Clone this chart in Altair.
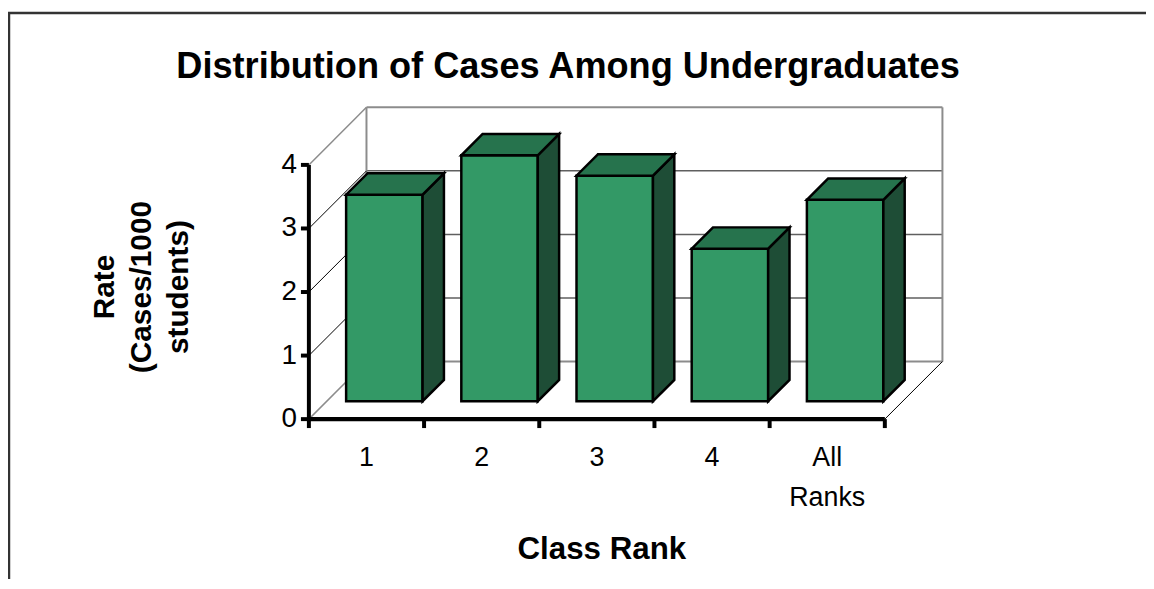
import altair as alt
import pandas as pd

# ---- data ----
categories = ["1", "2", "3", "4", "All\nRanks"]
rates = [3.25, 3.87, 3.55, 2.40, 3.17]
y_ticks = [0, 1, 2, 3, 4]
chart_title = "Distribution of Cases Among Undergraduates"
x_title = "Class Rank"
y_title = "Rate\n(Cases/1000\nstudents)"

# ---- layout (pixels in the view) ----
W, H = 1146, 573
ORIGIN_X, ORIGIN_Y = 303, 412       # pixel of category 0 / value 0 (front plane)
CAT_PX, UNIT_PX, DEPTH_PX = 116, 64, 58
FONT = "Liberation Sans"

x_scale = alt.Scale(domain=[-ORIGIN_X / CAT_PX, (W - ORIGIN_X) / CAT_PX], nice=False, zero=False)
y_scale = alt.Scale(domain=[(ORIGIN_Y - H) / UNIT_PX, ORIGIN_Y / UNIT_PX], nice=False, zero=False)
DX = DEPTH_PX / CAT_PX   # depth offset in category units
DY = DEPTH_PX / UNIT_PX  # depth offset in value units
F_FRONT = 18 / DEPTH_PX  # bar front-face depth fraction
F_DEPTH = 21.5 / DEPTH_PX  # bar depth fraction
GAP = 19.5 / CAT_PX
BW = 77 / CAT_PX
n = len(categories)


def X(f="x"):
    return alt.X(f"{f}:Q", scale=x_scale, axis=None, stack=None)


def Y(f="y"):
    return alt.Y(f"{f}:Q", scale=y_scale, axis=None, stack=None)


# ---- tables built from the arrays ----
front_rows, side_rows, top_rows = [], [], []
for i, (c, v) in enumerate(zip(categories, rates)):
    x0 = i + F_FRONT * DX + GAP
    x1 = x0 + BW
    y0 = F_FRONT * DY
    y1 = v + F_FRONT * DY
    front_rows.append(dict(cat=c, x=x0, x2=x1, y=y0, y2=y1))
    for t in (0, 1):
        sx, sy = t * F_DEPTH * DX, t * F_DEPTH * DY
        side_rows.append(dict(cat=c, x=x1 + sx, y=y1 + sy, y2=y0 + sy))
        top_rows.append(dict(cat=c, y=y1 + sy, x=x0 + sx, x2=x1 + sx))
front_df = pd.DataFrame(front_rows)
side_df = pd.DataFrame(side_rows)
top_df = pd.DataFrame(top_rows)

grid_df = pd.DataFrame({"x": [DX] * len(y_ticks), "x2": [n + DX] * len(y_ticks),
                        "y": [k + DY for k in y_ticks],
                        "edge": [k in (y_ticks[0], y_ticks[-1]) for k in y_ticks]})
wall_edges_df = pd.DataFrame({"x": [DX, n + DX], "y": [DY, DY], "y2": [y_ticks[-1] + DY] * 2})
diag_df = pd.DataFrame({"x": [0.0] * len(y_ticks), "x2": [DX] * len(y_ticks),
                        "y": [float(k) for k in y_ticks], "y2": [k + DY for k in y_ticks],
                        "edge": [k in (y_ticks[0], y_ticks[-1]) for k in y_ticks]})
floor_diag_df = pd.DataFrame({"x": [float(n)], "x2": [n + DX], "y": [0.0], "y2": [DY]})
yaxis_df = pd.DataFrame({"x": [0.0], "y": [0.0], "y2": [float(y_ticks[-1])]})
xaxis_df = pd.DataFrame({"x": [0.0], "x2": [float(n)], "y": [0.0]})
ytick_df = pd.DataFrame({"x": [0.0] * len(y_ticks), "y": y_ticks, "label": [str(k) for k in y_ticks]})
xtick_df = pd.DataFrame({"x": [float(i) for i in range(n + 1)], "y": [0.0] * (n + 1)})
cat_df = pd.DataFrame({"x": [i + 0.5 for i in range(n)], "y": [0.0] * n, "label": categories})

GRID_EDGE = "#8c8c8c"
GRID_IN = "#5f5f5f"

layers = []
# back wall gridlines
layers.append(alt.Chart(grid_df).mark_rule().encode(
    x=X(), x2="x2:Q", y=Y(),
    color=alt.condition("datum.edge", alt.value(GRID_EDGE), alt.value(GRID_IN)),
    strokeWidth=alt.condition("datum.edge", alt.value(2), alt.value(1.5))))
layers.append(alt.Chart(wall_edges_df).mark_rule(color=GRID_EDGE, strokeWidth=2).encode(
    x=X(), y=Y(), y2="y2:Q"))
# side wall diagonals
layers.append(alt.Chart(diag_df).mark_rule().encode(
    x=X(), x2="x2:Q", y=Y(), y2="y2:Q",
    color=alt.condition("datum.edge", alt.value(GRID_EDGE), alt.value("black")),
    strokeWidth=alt.condition("datum.edge", alt.value(1.5), alt.value(1))))
layers.append(alt.Chart(floor_diag_df).mark_rule(color="black", strokeWidth=1).encode(
    x=X(), x2="x2:Q", y=Y(), y2="y2:Q"))
# bars
layers.append(alt.Chart(front_df).mark_rect(fill="#339966", stroke="black", strokeWidth=2.5).encode(
    x=X(), x2="x2:Q", y=Y(), y2="y2:Q"))
layers.append(alt.Chart(side_df).mark_area(orient="vertical", fill="#1e4d36", stroke="black",
                                           strokeWidth=2.5, opacity=1).encode(
    x=X(), y=Y(), y2="y2:Q", detail="cat:N"))
layers.append(alt.Chart(top_df).mark_area(orient="horizontal", fill="#26734d", stroke="black",
                                          strokeWidth=2.5, opacity=1).encode(
    y=Y(), x=X(), x2="x2:Q", detail="cat:N"))
# front axes
layers.append(alt.Chart(yaxis_df).mark_rule(color="black", strokeWidth=4).encode(
    x=X(), y=Y(), y2="y2:Q"))
layers.append(alt.Chart(xaxis_df).mark_rule(color="black", strokeWidth=4.5).encode(
    x=X(), x2="x2:Q", y=Y()))
layers.append(alt.Chart(ytick_df).mark_rule(color="black", strokeWidth=4, x2Offset=-8).encode(
    x=X(), x2="x:Q", y=Y()))
layers.append(alt.Chart(xtick_df).mark_rule(color="black", strokeWidth=4, y2Offset=9).encode(
    x=X(), y=Y(), y2="y:Q"))
layers.append(alt.Chart(ytick_df).mark_text(font=FONT, fontSize=28, align="right", baseline="middle",
                                            xOffset=-12, color="black").encode(
    x=X(), y=Y(), text="label:N"))
layers.append(alt.Chart(cat_df).mark_text(font=FONT, fontSize=27, align="center", baseline="alphabetic",
                                          yOffset=47, lineBreak="\n", lineHeight=41, color="black").encode(
    x=X(), y=Y(), text="label:N"))
# titles
layers.append(alt.Chart(pd.DataFrame({"t": [chart_title]})).mark_text(
    font=FONT, fontSize=36.4, fontWeight="bold", align="center", baseline="middle", color="black").encode(
    x=alt.value(564), y=alt.value(57), text="t:N"))
layers.append(alt.Chart(pd.DataFrame({"t": [x_title]})).mark_text(
    font=FONT, fontSize=31.5, fontWeight="bold", align="center", baseline="middle", color="black").encode(
    x=alt.value(598), y=alt.value(544), text="t:N"))
layers.append(alt.Chart(pd.DataFrame({"t": [y_title]})).mark_text(
    font=FONT, fontSize=30, fontWeight="bold", align="center", baseline="middle", angle=270,
    lineBreak="\n", lineHeight=37, color="black").encode(
    x=alt.value(98), y=alt.value(279), text="t:N"))
# outer frame (top and left edges)
frame_df = pd.DataFrame({"k": [0]})
layers.append(alt.Chart(frame_df).mark_rule(color="#333333", strokeWidth=2.5).encode(
    x=alt.value(0), x2=alt.value(W), y=alt.value(3)))
layers.append(alt.Chart(frame_df).mark_rule(color="#333333", strokeWidth=2.5).encode(
    x=alt.value(1), y=alt.value(3), y2=alt.value(H)))

chart = alt.layer(*layers).properties(
    width=W, height=H, padding=0, autosize=alt.AutoSizeParams(type="none")
).configure_view(stroke=None)

chart.save("out.html", embed_options={"renderer": "svg", "actions": False})
